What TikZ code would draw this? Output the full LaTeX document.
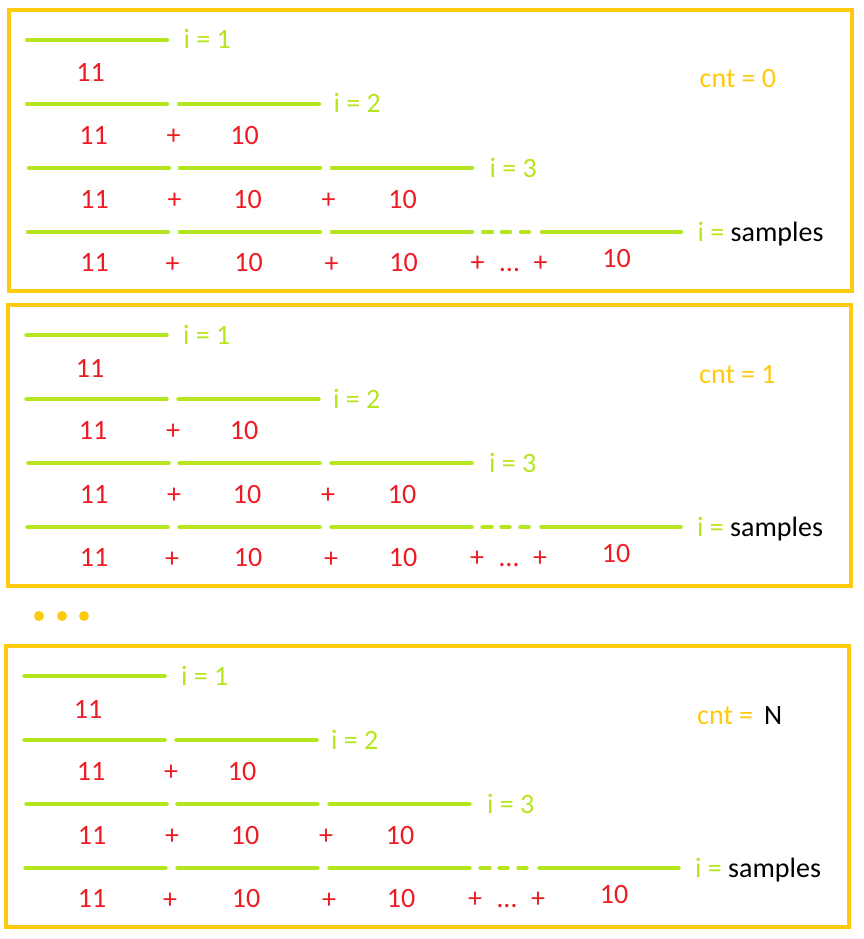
\documentclass[tikz,border=0pt]{standalone}
\usepackage{fontspec}
\setmainfont{Carlito}

\definecolor{barGreen}{RGB}{181,230,29}
\definecolor{numRed}{RGB}{237,28,36}
\definecolor{boxGold}{RGB}{255,201,14}

\tikzset{
  frame/.style={draw=boxGold, line width=4pt},
  bar/.style={draw=barGreen, line width=4.5pt, line cap=round},
  txt/.style={inner sep=0pt, text height=18pt, text depth=0pt, font=\fontsize{28}{34}\selectfont},
  num/.style={txt, text=numRed},
  ilabel/.style={txt, text=barGreen, anchor=west},
  cntlabel/.style={txt, text=boxGold},
}

% one box: #1 name prefix, #2 x shift, #3 y shift, #4 cnt value
\newcommand{\samplebox}[4]{%
\begin{scope}[shift={(#2,#3)}]
\draw[frame] (8,0) rectangle (851,281);

\draw[bar] (26.5,30) -- (166.5,30);
\node[ilabel] (#1i1) at (183,30) {i = 1};
\node[num] (#1r1a) at (90,63) {11};

\draw[bar] (26.5,94) -- (166.5,94);
\draw[bar] (178.5,94) -- (318.5,94);
\node[ilabel] (#1i2) at (333,94) {i = 2};
\node[num] (#1r2a) at (93,125) {11};
\node[num] (#1r2p) at (173,125) {+};
\node[num] (#1r2b) at (244,125) {10};

\draw[bar] (28.5,158) -- (168.5,158);
\draw[bar] (179.5,158) -- (319.5,158);
\draw[bar] (331.5,158) -- (471.5,158);
\node[ilabel] (#1i3) at (489,158) {i = 3};
\node[num] (#1r3a) at (94,189) {11};
\node[num] (#1r3p) at (174,189) {+};
\node[num] (#1r3b) at (247,189) {10};
\node[num] (#1r3q) at (328,189) {+};
\node[num] (#1r3c) at (402,189) {10};

\draw[bar] (27.5,222) -- (167.5,222);
\draw[bar] (179.5,222) -- (319.5,222);
\draw[bar] (331.5,222) -- (471.5,222);
\foreach \xa/\xb in {482.5/491.5, 501.5/509.5, 520.5/528.5}
  \draw[bar] (\xa,222) -- (\xb,222);
\draw[bar] (541.5,222) -- (680.5,222);
\node[ilabel] (#1is) at (697,222) {i = \textcolor{black}{samples}};
\node[num] (#1r4a) at (94,252) {11};
\node[num] (#1r4p) at (172,253) {+};
\node[num] (#1r4b) at (248,252) {10};
\node[num] (#1r4q) at (331,253) {+};
\node[num] (#1r4c) at (403,252) {10};
\node[num] (#1r4r) at (477,252) {+};
\node[num] (#1r4d) at (509,252) {\dots};
\node[num] (#1r4s) at (540,252) {+};
\node[num] (#1r4e) at (616,248) {10};

\node[cntlabel, anchor=west] (#1cnt) at (699,69) {cnt = #4};
\end{scope}}

\begin{document}
\begin{tikzpicture}[x=1pt, y=-1pt]
\useasboundingbox (0,0) rectangle (864,939);

\samplebox{a}{0.5}{10}{0}
\samplebox{b}{0}{305}{1}
\samplebox{c}{-2}{646}{\,\textcolor{black}{N}}

% dots between boxes
\foreach \x [count=\k] in {39,62,84}
  \fill[boxGold] (\x,616) circle (5) coordinate (dot\k);
\end{tikzpicture}
\end{document}
